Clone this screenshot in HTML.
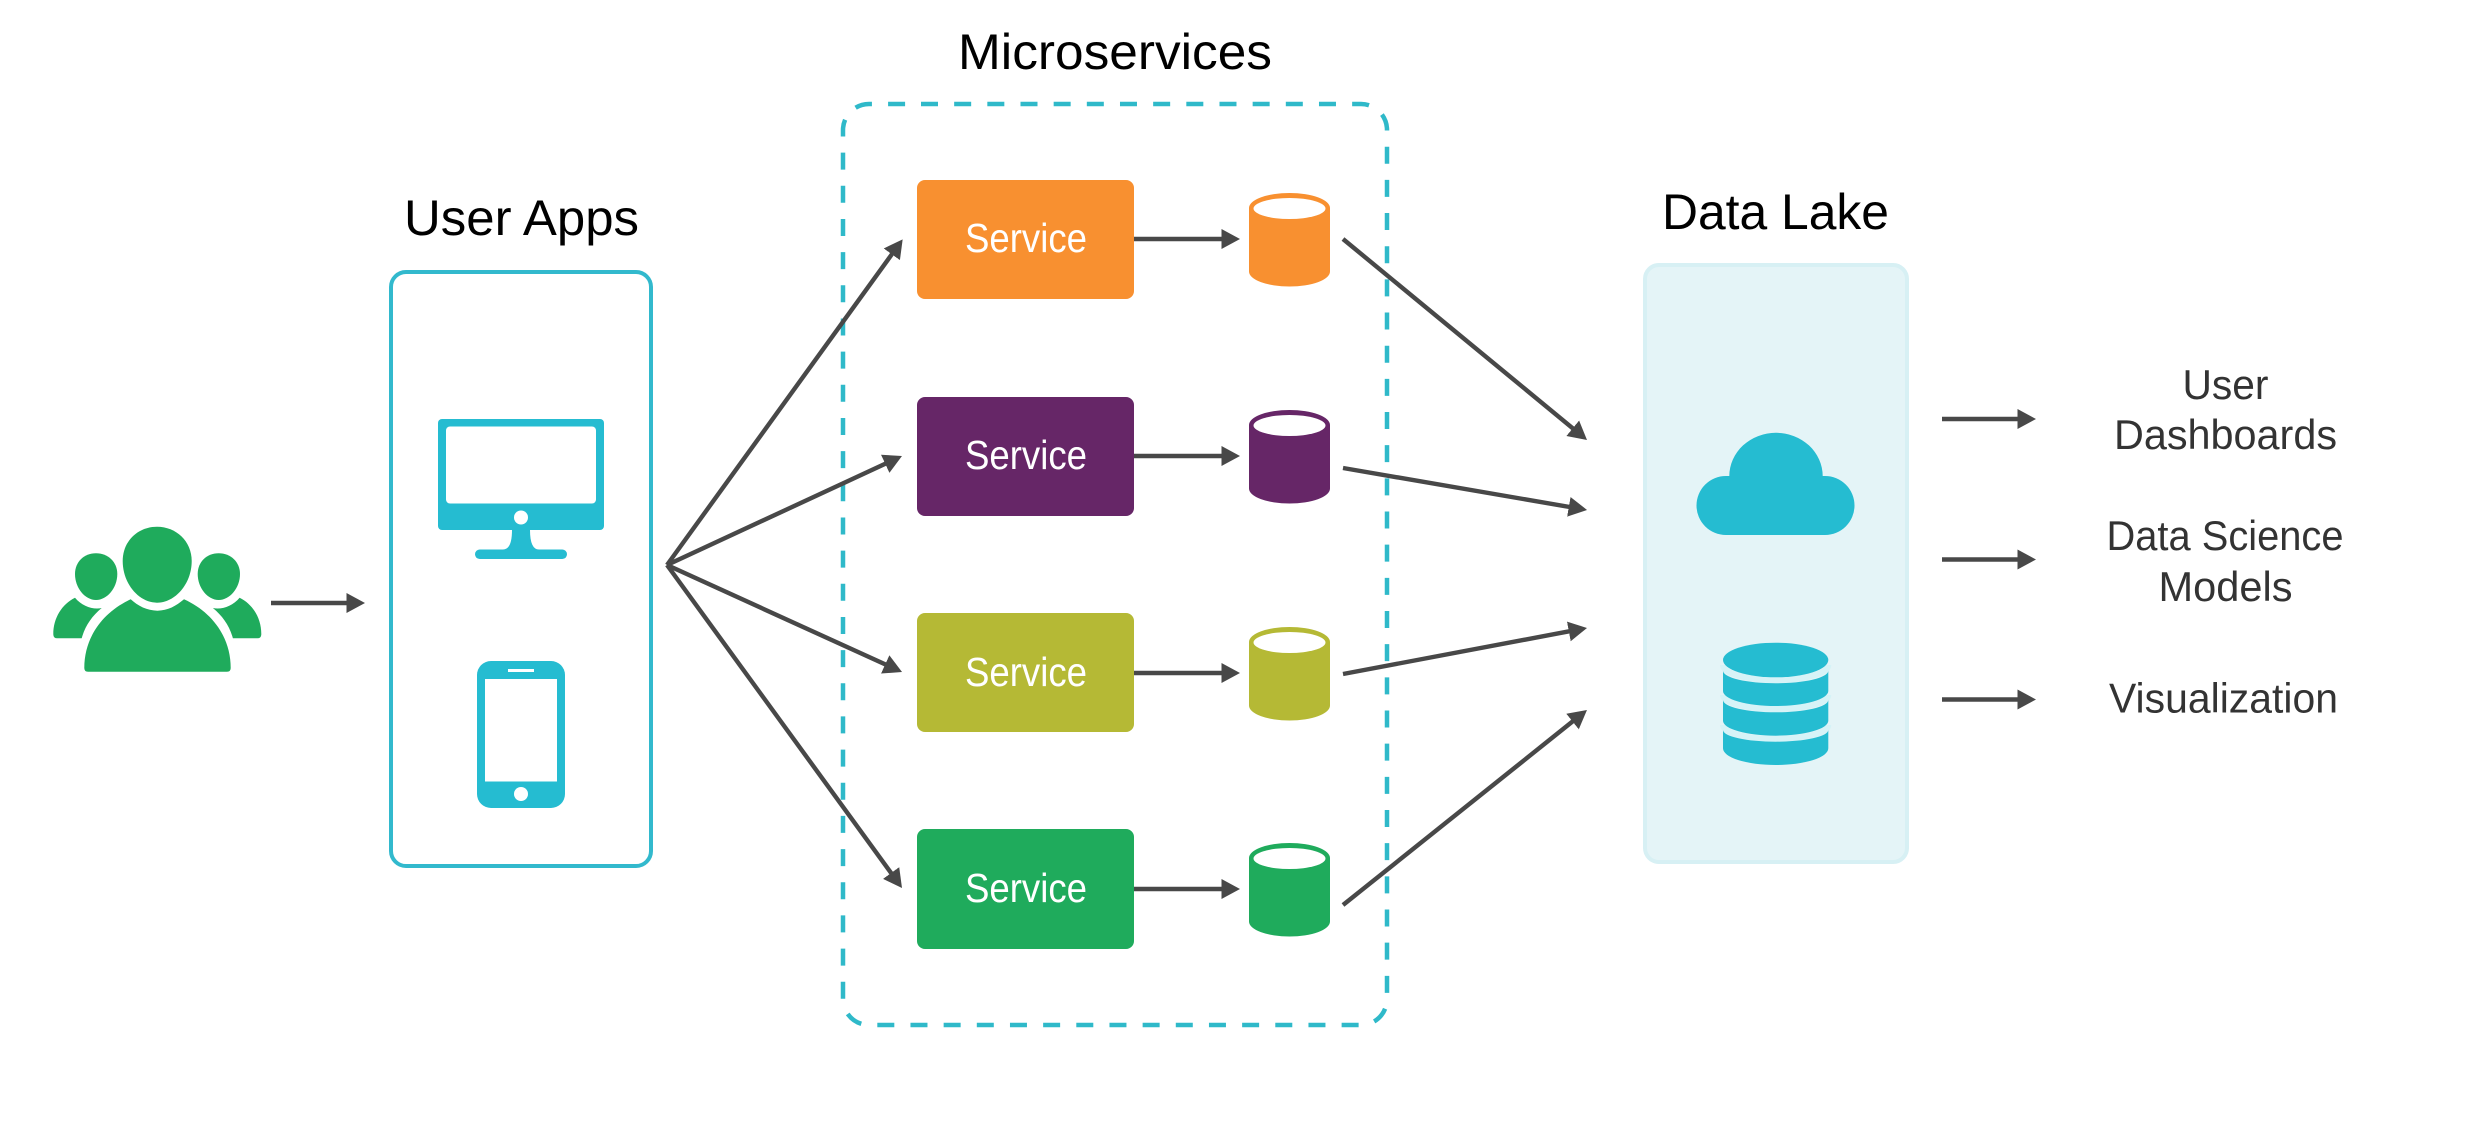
<!DOCTYPE html>
<html>
<head>
<meta charset="utf-8">
<style>
html,body{margin:0;padding:0;background:#fff;width:2481px;height:1121px;overflow:hidden}
svg{display:block}
text{font-family:"Liberation Sans",sans-serif}
.t{font-size:50px;fill:#000}
.s{font-size:41px;fill:#fff}
.l{font-size:42px;fill:#333}
.a{stroke:#484848;stroke-width:4.4;fill:none}
</style>
</head>
<body>
<svg width="2481" height="1121" viewBox="0 0 2481 1121" xmlns="http://www.w3.org/2000/svg">
<defs>
<marker id="h" markerUnits="userSpaceOnUse" markerWidth="20" markerHeight="22" refX="1" refY="10.5" orient="auto">
<path d="M0 0.5L18.5 10.5L0 20.5Z" fill="#484848"/>
</marker>
</defs>
<rect width="2481" height="1121" fill="#fff"/>

<!-- titles -->
<text class="t" x="958" y="69" textLength="314" lengthAdjust="spacingAndGlyphs">Microservices</text>
<text class="t" x="404" y="235" textLength="235" lengthAdjust="spacingAndGlyphs">User Apps</text>
<text class="t" x="1662" y="229" textLength="227" lengthAdjust="spacingAndGlyphs">Data Lake</text>

<!-- people -->
<g fill="#1fab5c">
<path d="M75 597.7C62 604 53.3 618 53.3 634Q53.3 638.3 57 638.3L81.7 638.3C85 626 92 616 101.7 608C93 610 82 606 75 597.7Z"/>
<path d="M239.6 597.7C252.6 604 261.3 618 261.3 634Q261.3 638.3 257.6 638.3L232.9 638.3C229.6 626 222.6 616 212.9 608C221.6 610 232.6 606 239.6 597.7Z"/>
<path d="M96 553.3C108 553.3 117.3 562 117.3 574C117.3 588 107 600 96 600C85 600 75 588 75 574C75 562 84 553.3 96 553.3Z"/>
<path d="M218.7 553.3C230.7 553.3 240 562 240 574C240 588 229.7 600 218.7 600C207.7 600 197.7 588 197.7 574C197.7 562 206.7 553.3 218.7 553.3Z"/>
<path d="M130.7 599.3C103 612 84.3 637 84.3 668Q84.3 671.7 88 671.7L227 671.7Q230.7 671.7 230.7 668C230.7 637 212 612 184 599.3C176 606 168 610.7 157.4 610.7C147 610.7 138 606 130.7 599.3Z"/>
<path d="M157 526.7C176 526.7 191.7 541 191.7 561C191.7 584 175 602.7 157 602.7C139 602.7 122.7 584 122.7 561C122.7 541 138 526.7 157 526.7Z"/>
</g>
<line class="a" x1="271" y1="603" x2="347.5" y2="603" marker-end="url(#h)"/>

<!-- user apps box -->
<rect x="391" y="272" width="260" height="594" rx="15" fill="#fff" stroke="#32b9cd" stroke-width="4"/>
<g fill="#25bcd1">
<rect x="438" y="419" width="166" height="111" rx="4"/>
<rect x="512" y="525" width="18" height="28"/>
<rect x="475" y="549.5" width="92" height="9.5" rx="4.7"/>
<path d="M512 530Q512 549.5 503 549.5L539 549.5Q530 549.5 530 530Z"/>
<rect x="477" y="661" width="88" height="147" rx="14"/>
</g>
<rect x="446" y="426.5" width="150" height="77" rx="4" fill="#fff"/>
<circle cx="521" cy="517.5" r="7" fill="#fff"/>
<rect x="485" y="679" width="72" height="102.5" fill="#fff"/>
<rect x="508" y="669" width="26" height="3" fill="#fff"/>
<circle cx="521" cy="794" r="7" fill="#fff"/>

<!-- dashed -->
<path d="M921 104H1361A26 26 0 0 1 1387 130V999A26 26 0 0 1 1361 1025H869A26 26 0 0 1 843 999V130A26 26 0 0 1 869 104Z" fill="none" stroke="#2fb9c9" stroke-width="4.5" stroke-dasharray="17 16.165"/>

<!-- fan -->
<line class="a" x1="667" y1="565" x2="892.4" y2="253.5" marker-end="url(#h)"/>
<line class="a" x1="667" y1="565" x2="886.1" y2="463.4" marker-end="url(#h)"/>
<line class="a" x1="667" y1="565" x2="886.1" y2="664.8" marker-end="url(#h)"/>
<line class="a" x1="667" y1="565" x2="891.7" y2="873.8" marker-end="url(#h)"/>

<!-- services -->
<g>
<rect x="917" y="180" width="217" height="119" rx="8" fill="#f89030"/>
<text class="s" x="965" y="252" textLength="122" lengthAdjust="spacingAndGlyphs">Service</text>
<rect x="917" y="397" width="217" height="119" rx="8" fill="#662667"/>
<text class="s" x="965" y="469" textLength="122" lengthAdjust="spacingAndGlyphs">Service</text>
<rect x="917" y="613" width="217" height="119" rx="8" fill="#b5b935"/>
<text class="s" x="965" y="686" textLength="122" lengthAdjust="spacingAndGlyphs">Service</text>
<rect x="917" y="829" width="217" height="120" rx="8" fill="#1fab5c"/>
<text class="s" x="965" y="902" textLength="122" lengthAdjust="spacingAndGlyphs">Service</text>
</g>

<line class="a" x1="1134" y1="239" x2="1222.5" y2="239" marker-end="url(#h)"/>
<line class="a" x1="1134" y1="456" x2="1222.5" y2="456" marker-end="url(#h)"/>
<line class="a" x1="1134" y1="673" x2="1222.5" y2="673" marker-end="url(#h)"/>
<line class="a" x1="1134" y1="889" x2="1222.5" y2="889" marker-end="url(#h)"/>

<!-- cylinders -->
<g>
<path d="M1249 208A40.5 15 0 0 1 1330 208L1330 271.5A40.5 15 0 0 1 1249 271.5Z" fill="#f89030"/>
<ellipse cx="1289.5" cy="208.5" rx="36" ry="10.5" fill="#fff"/>
<path d="M1249 425A40.5 15 0 0 1 1330 425L1330 488.5A40.5 15 0 0 1 1249 488.5Z" fill="#662667"/>
<ellipse cx="1289.5" cy="425.5" rx="36" ry="10.5" fill="#fff"/>
<path d="M1249 642A40.5 15 0 0 1 1330 642L1330 705.5A40.5 15 0 0 1 1249 705.5Z" fill="#b5b935"/>
<ellipse cx="1289.5" cy="642.5" rx="36" ry="10.5" fill="#fff"/>
<path d="M1249 858A40.5 15 0 0 1 1330 858L1330 921.5A40.5 15 0 0 1 1249 921.5Z" fill="#1fab5c"/>
<ellipse cx="1289.5" cy="858.5" rx="36" ry="10.5" fill="#fff"/>
</g>

<!-- to lake -->
<line class="a" x1="1343" y1="239" x2="1573.5" y2="428.9" marker-end="url(#h)"/>
<line class="a" x1="1343" y1="468" x2="1569.8" y2="507" marker-end="url(#h)"/>
<line class="a" x1="1343" y1="674" x2="1569.8" y2="631.2" marker-end="url(#h)"/>
<line class="a" x1="1343" y1="905" x2="1573.3" y2="720.9" marker-end="url(#h)"/>

<!-- data lake -->
<rect x="1645" y="265" width="262" height="597" rx="14" fill="#e4f4f7" stroke="#d7f0f4" stroke-width="4"/>
<g fill="#25bcd1">
<path d="M1726 535A29.5 29.5 0 0 1 1726 476L1729.3 476A46.7 43.3 0 0 1 1822.7 476L1825 476A29.5 29.5 0 0 1 1825 535Z"/>
</g>
<g fill="none" stroke="#d6f3f7" stroke-width="6">
<path d="M1723 665A52.65 15 0 0 0 1828.3 665"/>
<path d="M1723 695A52.65 14 0 0 0 1828.3 695"/>
<path d="M1723 725A52.65 14 0 0 0 1828.3 725"/>
</g>
<g fill="#25bcd1">
<ellipse cx="1775.65" cy="660" rx="52.65" ry="17.3"/>
<path d="M1723 670.7A52.65 12.6 0 0 0 1828.3 670.7L1828.3 691A52.65 15 0 0 1 1723 691Z"/>
<path d="M1723 700A52.65 12.3 0 0 0 1828.3 700L1828.3 720.7A52.65 15 0 0 1 1723 720.7Z"/>
<path d="M1723 730A52.65 11.7 0 0 0 1828.3 730L1828.3 748.3A52.65 16.7 0 0 1 1723 748.3Z"/>
</g>

<!-- outputs -->
<line class="a" x1="1942" y1="419" x2="2018.5" y2="419" marker-end="url(#h)"/>
<line class="a" x1="1942" y1="559.5" x2="2018.5" y2="559.5" marker-end="url(#h)"/>
<line class="a" x1="1942" y1="699.5" x2="2018.5" y2="699.5" marker-end="url(#h)"/>

<text class="l" x="2182.5" y="399" textLength="86" lengthAdjust="spacingAndGlyphs">User</text>
<text class="l" x="2114" y="449" textLength="223" lengthAdjust="spacingAndGlyphs">Dashboards</text>
<text class="l" x="2106.5" y="550" textLength="237" lengthAdjust="spacingAndGlyphs">Data Science</text>
<text class="l" x="2158.5" y="601" textLength="134" lengthAdjust="spacingAndGlyphs">Models</text>
<text class="l" x="2109" y="712.5" textLength="229" lengthAdjust="spacingAndGlyphs">Visualization</text>
</svg>
</body>
</html>
